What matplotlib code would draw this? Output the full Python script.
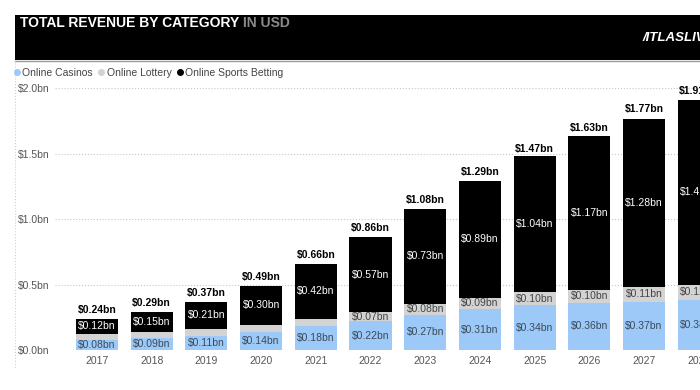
import matplotlib.pyplot as plt
from matplotlib.patches import Rectangle
from matplotlib.lines import Line2D

plt.rcParams['font.family'] = ['Liberation Sans', 'DejaVu Sans']

# Datos (miles de millones USD)
years = ['2017', '2018', '2019', '2020', '2021', '2022', '2023', '2024', '2025', '2026', '2027', '2028']
casinos = [0.08, 0.09, 0.11, 0.14, 0.18, 0.22, 0.27, 0.31, 0.34, 0.36, 0.37, 0.38]
lottery = [0.04, 0.05, 0.05, 0.05, 0.06, 0.07, 0.08, 0.09, 0.10, 0.10, 0.11, 0.12]
sports = [0.12, 0.15, 0.21, 0.30, 0.42, 0.57, 0.73, 0.89, 1.04, 1.17, 1.28, 1.41]
totals = [0.24, 0.29, 0.37, 0.49, 0.66, 0.86, 1.08, 1.29, 1.47, 1.63, 1.77, 1.91]
yticks = [0.0, 0.5, 1.0, 1.5, 2.0]

c_casino = '#9cc9f7'
c_lottery = '#d3d3d3'
c_sports = '#000000'

W, H = 700, 390
fig = plt.figure(figsize=(7, 3.9), dpi=100)

# Cabecera negra
fig.patches.append(Rectangle((15 / W, 1 - 60 / H), 1, 45 / H, transform=fig.transFigure,
                             facecolor='black', edgecolor='none', zorder=0))
fig.add_artist(Line2D([15 / W, 1], [1 - 61 / H, 1 - 61 / H], transform=fig.transFigure,
                      color='#9a9a9a', lw=1))
fig.add_artist(Line2D([15 / W, 15 / W], [1 - 60 / H, 1 - 368 / H], transform=fig.transFigure,
                      color='#cfcfcf', lw=0.8, ls=':'))
t = fig.text(20 / W, 1 - 23 / H, 'TOTAL REVENUE BY CATEGORY', color='white',
             fontsize=10, fontweight='bold', va='center', ha='left')
fig.canvas.draw()
bb = t.get_window_extent()
fig.text((bb.x1 + 4) / W, 1 - 23 / H, 'IN USD', color='#8a8a8a',
         fontsize=10, fontweight='bold', va='center', ha='left')
fig.text(643 / W, 1 - 38 / H, '/ITLASLIVE', color='white', fontsize=9.5,
         fontweight='bold', style='italic', va='center', ha='left')

# Ejes: el borde derecho sale de la figura (recorte como en la captura)
left, right, bottom, top = 55, 730, 350, 88
ax = fig.add_axes([left / W, 1 - bottom / H, (right - left) / W, (bottom - top) / H])
x = list(range(len(years)))
width = 0.77
ax.bar(x, casinos, width, color=c_casino, zorder=2)
ax.bar(x, lottery, width, bottom=casinos, color=c_lottery, zorder=2)
base2 = [c + l for c, l in zip(casinos, lottery)]
ax.bar(x, sports, width, bottom=base2, color=c_sports, zorder=2)

fs = 7.5
for i in x:
    ax.text(i, casinos[i] / 2, f'${casinos[i]:.2f}bn', ha='center', va='center',
            fontsize=fs, color='#3a4a5a', clip_on=False)
    if lottery[i] >= 0.07:
        ax.text(i, casinos[i] + lottery[i] / 2, f'${lottery[i]:.2f}bn', ha='center', va='center',
                fontsize=fs, color='#444444')
    ax.text(i, base2[i] + sports[i] / 2, f'${sports[i]:.2f}bn', ha='center', va='center',
            fontsize=fs, color='white')
    ax.text(i, totals[i] + 0.03, f'${totals[i]:.2f}bn', ha='center', va='bottom',
            fontsize=fs, color='black', fontweight='bold')

ax.set_xlim((left - 97) / 54.7, (right - 97) / 54.7)
ax.set_ylim(0, 2.0)
ax.set_xticks(x)
ax.set_xticklabels(years, fontsize=fs, color='#555555')
ax.set_yticks(yticks)
ax.set_yticklabels([f'${v:.1f}bn' for v in yticks], fontsize=fs, color='#555555')
ax.tick_params(length=0, pad=4)
ax.yaxis.grid(True, ls=':', color='#c8c8c8', lw=0.8, zorder=0)
for s in ax.spines.values():
    s.set_visible(False)

# Leyenda
handles = [Line2D([], [], marker='o', ls='', color=c, markersize=4) for c in (c_casino, c_lottery, c_sports)]
fig.legend(handles, ['Online Casinos', 'Online Lottery', 'Online Sports Betting'],
           loc='center left', bbox_to_anchor=(13 / W, 1 - 73 / H), ncol=3, frameon=False,
           fontsize=fs, handletextpad=0.1, columnspacing=0.4, handlelength=0.8,
           labelcolor='#444444', borderpad=0, borderaxespad=0)

fig.savefig('out.png', dpi=100)
